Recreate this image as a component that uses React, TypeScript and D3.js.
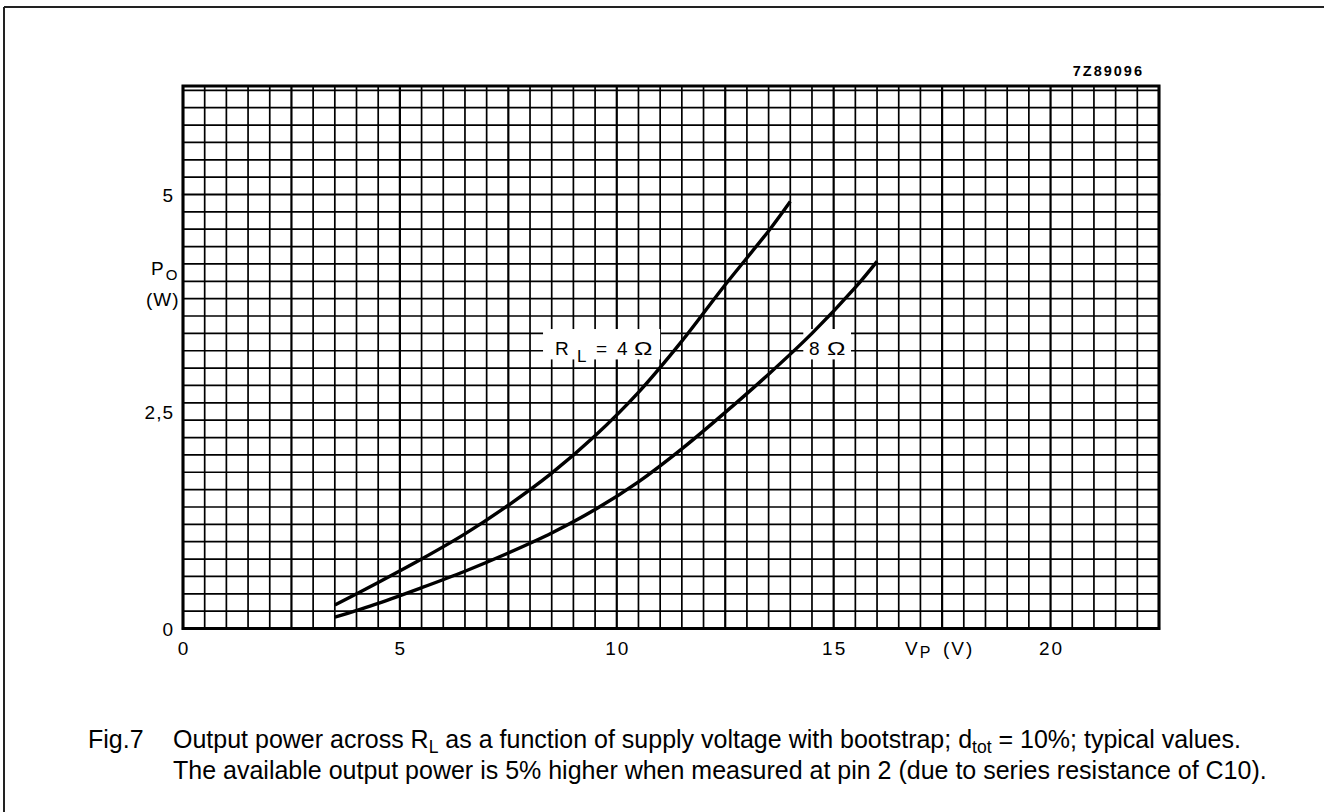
import * as d3 from "d3"

// Output power Po (W) vs supply voltage Vp (V)
const curve4Ohm: [number, number][] = [
  [3.5, 0.27], [4.5, 0.53], [5.5, 0.8], [6.5, 1.09], [7.5, 1.42], [8.5, 1.79],
  [9.5, 2.22], [10.5, 2.72], [11.5, 3.31], [12.5, 3.96], [13.5, 4.58], [14, 4.92],
]
const curve8Ohm: [number, number][] = [
  [3.5, 0.13], [4.5, 0.29], [5.5, 0.47], [6.5, 0.66], [7.5, 0.87], [8.5, 1.1],
  [9.5, 1.37], [10.5, 1.69], [11.5, 2.07], [12.5, 2.49], [13.5, 2.93], [14.5, 3.4],
  [15.5, 3.93], [16, 4.23],
]
const voltageTicks = [0, 5, 10, 15, 20]
const powerTicks = [0, 2.5, 5]
const powerTickLabels = ["0", "2,5", "5"]

const W = 1324
const H = 812
const font = "'Liberation Sans', Arial, sans-serif"

const x = d3.scaleLinear().domain([0, 22.5]).range([183, 1159])
const y = d3.scaleLinear().domain([0, 6.25]).range([628.5, 86])

const line = d3
  .line<[number, number]>()
  .x((d) => x(d[0]))
  .y((d) => y(d[1]))
  .curve(d3.curveCatmullRom.alpha(0.5))

const isMultiple = (v: number, step: number) => Math.abs(v / step - Math.round(v / step)) < 1e-6

export default function App() {
  const xGrid = x.ticks(45)
  const yGrid = y.ticks(25)
  const [x0, x1] = x.range()
  const [y0, y1] = y.range()
  const labelY = y(3.15)

  return (
    <svg
      width={W}
      height={H}
      viewBox={`0 0 ${W} ${H}`}
      style={{ position: "fixed", left: 0, top: 0, background: "#fff", display: "block" }}
    >
      {/* page frame */}
      <line x1={4} y1={7} x2={W} y2={7} stroke="#222" strokeWidth={2} />
      <line x1={4} y1={7} x2={4} y2={H} stroke="#222" strokeWidth={2} />

      {/* grid */}
      <g stroke="#000" strokeLinecap="square">
        {xGrid.map((v) => (
          <line key={"gx" + v} x1={x(v)} x2={x(v)} y1={y0} y2={y1} strokeWidth={isMultiple(v, 2.5) ? 2.2 : 1.7} />
        ))}
        {yGrid.map((v) => (
          <line key={"gy" + v} y1={y(v)} y2={y(v)} x1={x0} x2={x1} strokeWidth={isMultiple(v, 1.25) ? 2.2 : 1.7} />
        ))}
        <rect x={x0} y={y1} width={x1 - x0} height={y0 - y1} fill="none" strokeWidth={3} />
      </g>

      {/* label backgrounds */}
      <rect x={x(8.3)} y={y(3.45)} width={x(11.0) - x(8.3)} height={y(3.1) - y(3.45)} fill="#fff" />
      <rect x={x(14.3)} y={y(3.45)} width={x(15.4) - x(14.3)} height={y(3.1) - y(3.45)} fill="#fff" />

      {/* curves */}
      <path d={line(curve4Ohm) ?? ""} fill="none" stroke="#000" strokeWidth={3.4} />
      <path d={line(curve8Ohm) ?? ""} fill="none" stroke="#000" strokeWidth={3.4} />

      <g fontFamily={font} fontSize={19} fill="#000">
        <text x={555} y={labelY}>
          R<tspan x={577} fontSize={17} dy={7}>L</tspan>
        </text>
        <text x={596} y={labelY}>=</text>
        <text x={617} y={labelY}>4</text>
        <text transform={`translate(634,${labelY}) scale(1.3,1)`}>Ω</text>
        <text x={809} y={labelY}>8</text>
        <text transform={`translate(827,${labelY}) scale(1.3,1)`}>Ω</text>
      </g>

      <g fontFamily={font} fontSize={19} fill="#000" letterSpacing={2}>
        {/* x axis labels */}
        {voltageTicks.map((v) => (
          <text key={"xt" + v} x={x(v) + 1} y={655} textAnchor="middle">
            {v}
          </text>
        ))}
        <text x={905} y={655}>
          V<tspan fontSize={16} dy={3}>P</tspan>
          <tspan dy={-3} x={943}>(V)</tspan>
        </text>

        {/* y axis labels */}
        {powerTicks.map((v, i) => (
          <text key={"yt" + v} x={174} y={y(v) + 7} textAnchor="end" letterSpacing={1}>
            {powerTickLabels[i]}
          </text>
        ))}
        <text x={151} y={275}>
          P<tspan fontSize={15} dy={5}>O</tspan>
        </text>
        <text x={146} y={306} letterSpacing={1}>(W)</text>

        <text x={1144} y={76} textAnchor="end" fontSize={14.5} fontWeight="bold" letterSpacing={2}>
          7Z89096
        </text>
      </g>

      {/* caption */}
      <g fontFamily={font} fontSize={25} fill="#000">
        <text x={88} y={748}>Fig.7</text>
        <text x={173} y={748}>
          Output power across R<tspan fontSize={17.5} dy={5}>L</tspan>
          <tspan dy={-5}> as a function of supply voltage with bootstrap; d</tspan>
          <tspan fontSize={17.5} dy={5}>tot</tspan>
          <tspan dy={-5}> = 10%; typical values.</tspan>
        </text>
        <text x={173} y={779}>
          The available output power is 5% higher when measured at pin 2 (due to series resistance of C10).
        </text>
      </g>
    </svg>
  )
}
